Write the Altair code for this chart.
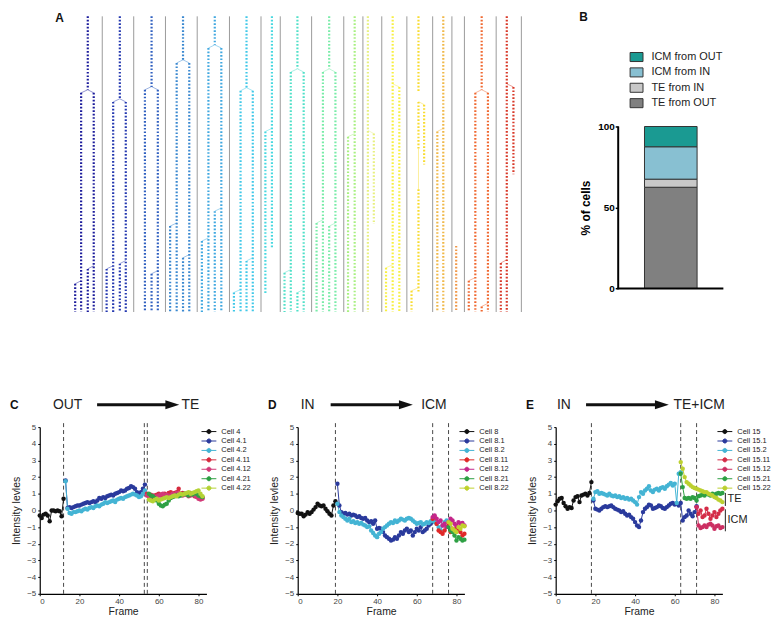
import altair as alt
import pandas as pd

FONT = "Liberation Sans"

# ---------------- Panel A : lineage trees ----------------
tree_colors = ["#1c1c9c", "#2438b0", "#3060c0", "#3a88d0", "#40a8e0", "#40c8e8",
               "#48d8e0", "#50e0c8", "#78eca8", "#a8f080", "#e8f080", "#f8f040",
               "#f8dc30", "#f0b848", "#f09848", "#f06830", "#d83828"]
separator_x = [102.3, 134, 166, 198, 230.5, 262.3, 281.7, 313.3, 345.7, 365, 384,
               409.3, 435.3, 454.7, 467.3, 499.3, 524.7]
# lineage column, lane position, first frame, last frame, parent lane (None = root)
tracks = [
    (1, 87.7, 0, 21.1, None), (1, 81, 22, 85, 87.7), (1, 93.7, 22, 85, 87.7),
    (1, 87.7, 72.6, 85, 93.7), (1, 75, 76.9, 85, 81),
    (2, 120, 0, 23.7, None), (2, 113.3, 24.6, 85, 120), (2, 126, 24.6, 85, 120),
    (2, 106.7, 72.6, 85, 113.3), (2, 120, 71.1, 85, 126),
    (3, 152, 0, 20.3, None), (3, 145.3, 21.1, 85, 152), (3, 158.3, 21.1, 85, 152),
    (3, 152, 74, 85, 158.3),
    (4, 183.7, 0, 12.6, None), (4, 177.3, 13.4, 85, 183.7), (4, 190, 13.4, 85, 183.7),
    (4, 170.7, 60.3, 85, 177.3), (4, 183.7, 69.4, 85, 190),
    (5, 215.7, 0, 8.2, None), (5, 209.3, 9.1, 85, 215.7), (5, 222.3, 9.1, 85, 215.7),
    (5, 215.7, 56, 85, 222.3), (5, 202.7, 64.6, 85, 209.3),
    (6, 247.7, 0, 20.6, None), (6, 241.7, 21.4, 85, 247.7), (6, 254, 21.4, 85, 247.7),
    (6, 247.7, 70.3, 85, 254), (6, 235, 79.4, 85, 241.7),
    (7, 273.3, 0, 66.6, None), (7, 266.7, 33.1, 79.7, 273.3),
    (8, 299, 0, 15.1, None), (8, 292.3, 16, 85, 299), (8, 305.3, 16, 85, 299),
    (8, 286, 73.7, 85, 292.3), (8, 299, 79.4, 85, 305.3),
    (9, 331, 0, 15.1, None), (9, 324.7, 16, 85, 331), (9, 337.3, 16, 85, 331),
    (9, 318.3, 59.4, 85, 324.7), (9, 331, 60.3, 85, 337.3),
    (10, 356.7, 0, 85, None), (10, 350, 34.6, 85, 356.7),
    (11, 370, 0, 85, None), (11, 376, 33.7, 59.7, 370),
    (12, 395, 0, 85, None), (12, 401.7, 20.3, 85, 395), (12, 388.3, 72.3, 85, 395),
    (13, 421, 0, 21.7, None), (13, 421, 24.6, 38, None), (13, 421, 49.7, 79.7, None),
    (13, 426.7, 25.4, 42.6, 421), (13, 414, 78.9, 85, 421),
    (14, 446, 0, 85, None), (14, 440, 33.1, 85, 446),
    (15, 459, 66, 85, None),
    (16, 484.7, 0, 21.1, None), (16, 478.3, 22, 85, 484.7), (16, 491, 22, 85, 484.7),
    (16, 471.7, 76, 85, 478.3), (16, 484.7, 83.4, 85, 491),
    (17, 510, 0, 85, None), (17, 516.7, 20.3, 45.4, 510), (17, 504, 70.9, 85, 510),
]
gaps = [(13, 421, 38, 49.7)]

col_names = [f"L{i}" for i in range(1, 18)]
trk = pd.DataFrame([{"col": f"L{c}", "x": x, "f0": a, "f1": b} for c, x, a, b, p in tracks])
con = pd.DataFrame(
    [{"col": f"L{c}", "px": p, "pf": a - 0.9, "x": x, "f0": a} for c, x, a, b, p in tracks if p is not None]
    + [{"col": f"L{c}", "px": x, "pf": a, "x": x, "f0": b} for c, x, a, b in gaps])
sep = pd.DataFrame({"x": separator_x})

XA = alt.Scale(domain=[39.3, 525], nice=False, zero=False)
YA = alt.Scale(domain=[0, 85], nice=False, reverse=True)
colA = alt.Color("col:N", scale=alt.Scale(domain=col_names, range=tree_colors), legend=None)

a_sep = alt.Chart(sep).mark_rule(color="#9a9a9a", strokeWidth=1).encode(
    x=alt.X("x:Q", scale=XA, axis=None))
a_con = alt.Chart(con).mark_rule(strokeWidth=0.6, opacity=0.8).encode(
    x=alt.X("px:Q", scale=XA, axis=None), y=alt.Y("pf:Q", scale=YA, axis=None),
    x2="x:Q", y2="f0:Q", color=colA)
a_trk = alt.Chart(trk).mark_rule(strokeWidth=2.2, strokeDash=[1.7, 1.8]).encode(
    x=alt.X("x:Q", scale=XA, axis=None), y=alt.Y("f0:Q", scale=YA, axis=None),
    y2="f1:Q", color=colA)
a_lab = alt.Chart(pd.DataFrame({"t": ["A"]})).mark_text(
    font=FONT, fontSize=12, fontWeight="bold", align="left", baseline="middle", color="#111"
).encode(x=alt.value(15.7), y=alt.value(1.5), text="t:N")
panelA = alt.layer(a_sep, a_con, a_trk, a_lab).properties(width=485.7, height=298)

# ---------------- Panel B : stacked bar ----------------
b_groups = ["TE from OUT", "TE from IN", "ICM from IN", "ICM from OUT"]
b_percent = [62.5, 5.0, 20.0, 12.5]
b_colors = ["#808080", "#c8c8c8", "#88c0d2", "#1a9a92"]
bdf = pd.DataFrame({"g": ["all"] * 4, "grp": b_groups, "pct": b_percent, "k": [0, 1, 2, 3]})
leg_order = b_groups[::-1]
leg_colors = b_colors[::-1]
YB = alt.Scale(domain=[-14.5, 168], nice=False, zero=False)
XB = alt.Scale(domain=["all"])

b_bar = alt.Chart(bdf).mark_bar(size=53, stroke="#333", strokeWidth=1).encode(
    x=alt.X("g:N", scale=XB, axis=None),
    y=alt.Y("pct:Q", stack="zero", scale=YB,
            axis=alt.Axis(values=[0, 50, 100], title="% of cells", titleFont=FONT,
                          titleFontSize=12, titleFontWeight="bold", titleColor="black",
                          titleY=192.7, labelFont=FONT, labelFontSize=10,
                          labelFontWeight="bold", labelColor="black", tickSize=3,
                          tickWidth=1.5, tickColor="black", domain=False, labelPadding=1,
                          titlePadding=5, grid=False)),
    color=alt.Color("grp:N", scale=alt.Scale(domain=leg_order, range=leg_colors),
                    legend=alt.Legend(title=None, orient="none", legendX=11.5, legendY=34,
                                      symbolType="M-1,-0.7H1V0.7H-1Z", symbolSize=169,
                                      symbolStrokeColor="#333", symbolStrokeWidth=1,
                                      labelFont=FONT, labelFontSize=11, labelColor="#222",
                                      rowPadding=1.5, labelOffset=8, padding=0)),
    order=alt.Order("k:Q"))
axis_df = pd.DataFrame({"lo": [0], "hi": [100]})
b_yline = alt.Chart(axis_df).mark_rule(color="black", strokeWidth=2).encode(
    x=alt.value(0), y=alt.Y("lo:Q", scale=YB), y2="hi:Q")
b_xline = alt.Chart(axis_df).mark_rule(color="black", strokeWidth=2).encode(
    x=alt.value(-1), x2=alt.value(106), y=alt.Y("lo:Q", scale=YB))
b_lab = alt.Chart(pd.DataFrame({"t": ["B"]})).mark_text(
    font=FONT, fontSize=12, fontWeight="bold", align="left", baseline="middle", color="#111"
).encode(x=alt.value(-39.3), y=alt.value(1), text="t:N")
panelB = alt.layer(b_bar, b_yline, b_xline, b_lab).properties(width=106, height=298)

# ---------------- Panels C, D, E : intensity traces ----------------
c_cells = ["Cell 4", "Cell 4.1", "Cell 4.2", "Cell 4.11", "Cell 4.12", "Cell 4.21", "Cell 4.22"]
c_start = [0, 13, 13, 54, 54, 55, 55]
c_values = [
    [-0.3, -0.45, -0.25, -0.2, -0.3, -0.65, 0.0, 0.0, -0.05, 0.0, -0.05, -0.35, 0.7],
    [1.8, 0.15, 0.2, 0.15, 0.2, 0.25, 0.3, 0.3, 0.35, 0.4, 0.45, 0.5, 0.45, 0.5, 0.55, 0.5,
     0.6, 0.75, 0.7, 0.8, 0.75, 0.85, 0.9, 0.95, 0.9, 1.0, 1.05, 1.1, 1.2, 1.15, 1.2, 1.3,
     1.35, 1.45, 1.4, 1.3, 1.1, 1.0, 1.1, 1.3, 1.55],
    [1.75, 0.1, -0.15, -0.2, -0.1, -0.1, -0.05, 0.0, -0.05, 0.05, 0.1, 0.05, 0.15, 0.2, 0.15,
     0.25, 0.3, 0.25, 0.35, 0.4, 0.5, 0.45, 0.5, 0.55, 0.6, 0.5, 0.65, 0.7, 0.75, 0.7, 0.8,
     0.85, 0.9, 0.95, 1.0, 0.95, 0.9, 0.8, 0.85, 1.0, 1.2],
    [1.0, 0.9, 0.95, 0.8, 0.9, 0.95, 1.0, 0.9, 0.95, 1.0, 0.9, 1.05, 1.1, 1.0, 1.05, 1.1, 1.3,
     1.0, 1.05, 0.95, 1.0, 0.9, 1.05, 0.95, 0.85, 0.9, 0.8, 0.7, 0.75],
    [0.9, 0.8, 0.85, 0.9, 0.8, 0.85, 0.9, 0.95, 1.0, 0.9, 0.95, 0.85, 0.9, 1.0, 0.95, 1.05,
     1.0, 0.95, 0.9, 1.0, 0.95, 0.85, 0.9, 1.0, 0.9, 0.8, 0.7, 0.65, 0.7],
    [1.0, 0.9, 0.85, 0.75, 0.6, 0.4, 0.3, 0.25, 0.35, 0.4, 0.6, 0.75, 0.8, 0.85, 0.9, 0.85,
     0.9, 0.95, 1.0, 0.95, 0.9, 1.0, 0.95, 1.05, 1.0, 0.9, 0.85, 0.8],
    [0.65, 0.6, 0.55, 0.65, 0.7, 0.6, 0.65, 0.7, 0.75, 0.8, 0.75, 0.8, 0.85, 0.9, 0.85, 0.95,
     1.0, 0.95, 1.0, 1.05, 1.1, 1.0, 1.05, 1.1, 1.15, 1.2, 1.0, 0.85],
]
c_colors = ["#111111", "#2a3a9c", "#44b4d4", "#d62a3e", "#d23a78", "#2ea044", "#b4d234"]
c_vlines = [12, 52.7, 54.2]

d_cells = ["Cell 8", "Cell 8.1", "Cell 8.2", "Cell 8.11", "Cell 8.12", "Cell 8.21", "Cell 8.22"]
d_start = [0, 20, 20, 68, 68, 76, 76]
d_values = [
    [-0.15, -0.2, -0.2, -0.35, -0.25, -0.1, -0.2, -0.1, 0.05, 0.2, 0.4, 0.3, 0.25, 0.3, 0.1,
     -0.05, -0.2, -0.3, 0.3, 0.55],
    [1.6, 0.3, -0.1, -0.2, -0.15, -0.25, -0.2, -0.3, -0.25, -0.3, -0.4, -0.35, -0.45, -0.5,
     -0.45, -0.6, -0.7, -0.65, -0.8, -0.6, -1.1, -1.05, -1.1, -1.3, -1.5, -1.6, -1.7, -1.8,
     -1.75, -1.6, -1.7, -1.5, -1.3, -1.4, -1.2, -1.1, -1.3, -1.2, -1.5, -1.3, -1.1, -1.2,
     -1.0, -1.3, -1.2, -1.1, -0.9, -0.8, -0.6],
    [0.4, -0.1, -0.3, -0.4, -0.5, -0.6, -0.5, -0.7, -0.65, -0.75, -0.7, -0.8, -0.75, -0.85,
     -0.9, -1.0, -0.95, -1.2, -1.35, -1.5, -1.6, -1.4, -1.3, -1.1, -1.0, -0.9, -0.8, -0.7,
     -0.75, -0.6, -0.7, -0.6, -0.5, -0.55, -0.6, -0.5, -0.45, -0.5, -0.6, -0.7, -0.8, -0.75,
     -0.7, -0.85, -0.8, -0.7, -0.75, -0.65, -0.6, -0.7, -0.8, -1.0, -1.2, -0.9, -0.7, -0.6,
     -0.7],
    [-0.5, -0.4, -0.8, -1.2, -1.3, -1.4, -1.2, -1.0, -0.8, -1.3, -1.1, -1.2, -1.0, -1.2, -1.3,
     -1.5, -1.4],
    [-0.4, -0.3, -0.5, -0.7, -0.6, -0.9, -0.8, -1.0, -0.7, -0.5, -0.6, -0.8, -0.9, -0.7, -0.8,
     -0.75, -0.9],
    [-1.0, -1.2, -1.3, -1.5, -1.8, -1.6, -1.7, -1.8, -1.75],
    [-0.7, -0.8, -1.1, -1.2, -1.3, -1.0, -1.1, -0.9, -0.95],
]
d_colors = ["#111111", "#2a3a9c", "#44b4d4", "#e02828", "#c4268a", "#2ea044", "#c0d22c"]
d_vlines = [19, 68, 76]

e_cells = ["Cell 15", "Cell 15.1", "Cell 15.2", "Cell 15.11", "Cell 15.12", "Cell 15.21",
           "Cell 15.22"]
e_start = [0, 19, 19, 71, 71, 63, 63]
e_values = [
    [0.35, 0.55, 0.7, 0.75, 0.45, 0.25, 0.1, 0.2, 0.15, 0.6, 0.8, 0.85, 0.5, 0.9, 0.95, 1.0,
     0.9, 1.05, 1.7],
    [0.6, 0.1, 0.05, 0.0, 0.1, 0.2, 0.25, 0.2, 0.25, 0.3, 0.2, 0.1, 0.05, 0.0, -0.1, -0.05,
     -0.2, -0.3, -0.25, -0.4, -0.5, -0.7, -0.9, -1.0, -0.6, -0.1, 0.1, 0.2, 0.35, 0.3, 0.1,
     0.15, 0.2, 0.3, 0.25, 0.15, 0.1, 0.2, 0.3, 0.4, 0.45, 0.35, 0.4, 0.3, 0.45, -0.6, -0.4,
     -0.3, 0.0, -0.2, -0.35, -0.1, 0.25],
    [0.7, 1.1, 1.15, 1.0, 1.05, 1.0, 0.95, 0.9, 1.0, 0.9, 0.85, 0.9, 0.8, 0.85, 0.75, 0.8, 0.7,
     0.75, 0.65, 0.7, 0.6, 0.5, 0.35, 0.8, 1.1, 1.0, 1.2, 1.3, 1.45, 1.2, 1.1, 1.25, 1.3, 1.2,
     1.35, 1.4, 1.3, 1.45, 1.55, 1.65, 1.5, 1.6, 0.45, 2.2, 2.3],
    [0.2, -0.2, 0.0, -0.4, -0.3, 0.1, -0.2, -0.5, -0.3, -0.1, -0.4, -0.2, 0.0, 0.1],
    [0.2, -0.9, -1.05, -1.0, -0.9, -1.0, -0.85, -0.8, -0.9, -1.1, -0.95, -0.9, -1.05, -1.0],
    [2.2, 1.4, 0.75, 0.7, 0.75, 0.7, 0.8, 0.75, 0.6, 0.85, 0.9, 0.95, 0.9, 1.0, 0.95, 0.9, 1.0,
     0.95, 1.0, 1.05, 1.0, 1.05],
    [2.9, 2.5, 2.0, 1.7, 1.6, 1.5, 1.4, 1.35, 1.3, 1.25, 1.2, 1.15, 1.1, 1.1, 1.0, 0.95, 0.9,
     0.8, 0.75, 0.65, 0.6, 0.5],
]
e_colors = ["#111111", "#2a3a9c", "#44b4d4", "#d42c48", "#cc2e62", "#2ea044", "#bcd030"]
e_vlines = [18, 63, 71]
# fate brackets at the right of panel E: label, top value, bottom value
e_fate_label = ["TE", "ICM"]
e_fate_top = [1.05, 0.07]
e_fate_bottom = [0.27, -1.25]

# header annotations "from -> to" (positions in frames)
heads = {
    "C": ("OUT", 14.0, 28.9, 70.3, "TE", 71.4),
    "D": ("IN", 5.0, 16.6, 58.0, "ICM", 62.2),
    "E": ("IN", 4.1, 15.3, 57.0, "TE+ICM", 59.4),
}

LINE_DOT = "M-2,0H2M-0.55,0A0.55,0.55,0,1,1,0.55,0A0.55,0.55,0,1,1,-0.55,0Z"
XS = alt.Scale(domain=[0, 84], nice=False, zero=False)
YS = alt.Scale(domain=[-5, 5], nice=False)
XAX = alt.Axis(values=[0, 20, 40, 60, 80], title="Frame", titleFont=FONT,
               titleFontSize=10.5, titleFontWeight="normal", titleColor="#222",
               labelFont=FONT, labelFontSize=8, labelColor="#444", tickSize=2,
               tickColor="black", domainColor="black", domainWidth=1.2,
               labelPadding=2, titlePadding=1, grid=False)
YAX = alt.Axis(values=list(range(-5, 6)), title="Intensity levles", titleFont=FONT,
               titleFontSize=10.5, titleFontWeight="normal", titleColor="#222",
               labelFont=FONT, labelFontSize=8, labelColor="#444", tickSize=2,
               tickColor="black", domainColor="black", domainWidth=1.2,
               labelPadding=2, titlePadding=5, grid=False)
PANEL_H = 168


def fx(field):
    return alt.X(field, scale=XS, axis=XAX)


def fy(field):
    return alt.Y(field, scale=YS, axis=YAX)


def trace_panel(letter, cells, starts, series, colors, vlines, fates=None):
    rows = []
    for cell, s, vals in zip(cells, starts, series):
        for i, v in enumerate(vals):
            rows.append({"cell": cell, "frame": s + i, "value": v})
    df = pd.DataFrame(rows)
    lines = alt.Chart(df).mark_line(
        strokeWidth=1, point=alt.OverlayMarkDef(filled=True, size=20)
    ).encode(
        x=fx("frame:Q"), y=fy("value:Q"),
        color=alt.Color("cell:N", scale=alt.Scale(domain=cells, range=colors),
                        legend=alt.Legend(title=None, orient="none", legendX=166, legendY=0,
                                          symbolType=LINE_DOT, symbolSize=56,
                                          symbolStrokeWidth=1, labelFont=FONT,
                                          labelFontSize=7.5, labelColor="#222",
                                          rowPadding=0.5, labelOffset=8, padding=0)))
    vl = alt.Chart(pd.DataFrame({"frame": vlines, "lo": [-5] * len(vlines),
                                 "hi": [5.3] * len(vlines)})).mark_rule(
        color="#333", strokeWidth=0.9, strokeDash=[4, 3]).encode(
        x=fx("frame:Q"), y=fy("lo:Q"), y2="hi:Q")
    lw, lx, a0, a1, rw, rx = heads[letter]
    hd = pd.DataFrame({"frame": [a0], "frame_end": [a1 - 3.5], "tip": [a1 - 3.5],
                       "lw": [lw], "lx": [lx], "rw": [rw], "rx": [rx]})
    hy = alt.value(-22.5)
    arrow = alt.Chart(hd).mark_rule(strokeWidth=3, color="#111").encode(
        x=fx("frame:Q"), x2=alt.X2("frame_end:Q"), y=hy)
    head = alt.Chart(hd).mark_point(shape="M-1,-0.65L1,0L-1,0.65Z", filled=True, size=196,
                                    color="#111", opacity=1).encode(x=fx("tip:Q"), y=hy)
    t_left = alt.Chart(hd).mark_text(font=FONT, fontSize=14, align="center",
                                     baseline="middle", color="#222").encode(
        x=fx("lx:Q"), y=hy, text="lw:N")
    t_right = alt.Chart(hd).mark_text(font=FONT, fontSize=14, align="left",
                                      baseline="middle", color="#222").encode(
        x=fx("rx:Q"), y=hy, text="rw:N")
    lab = alt.Chart(pd.DataFrame({"t": [letter]})).mark_text(
        font=FONT, fontSize=12, fontWeight="bold", align="left", baseline="middle",
        color="#111").encode(x=alt.value(-30), y=hy, text="t:N")
    layers = [vl, lines, arrow, head, t_left, t_right, lab]
    if fates is not None:
        names, tops, bots = fates
        fd = pd.DataFrame({"frame": [85.5] * len(names), "value": tops, "v2": bots,
                           "tx": [86.6] * len(names),
                           "mid": [(t + b) / 2 for t, b in zip(tops, bots)], "name": names})
        br = alt.Chart(fd).mark_rule(color="#222", strokeWidth=1).encode(
            x=fx("frame:Q"), y=fy("value:Q"), y2="v2:Q")
        bt = alt.Chart(fd).mark_text(font=FONT, fontSize=11, align="left",
                                     baseline="middle", color="#222").encode(
            x=fx("tx:Q"), y=fy("mid:Q"), text="name:N")
        layers += [br, bt]
    return alt.layer(*layers).properties(width=168, height=PANEL_H)


panelC = trace_panel("C", c_cells, c_start, c_values, c_colors, c_vlines)
panelD = trace_panel("D", d_cells, d_start, d_values, d_colors, d_vlines)
panelE = trace_panel("E", e_cells, e_start, e_values, e_colors, e_vlines,
                     (e_fate_label, e_fate_top, e_fate_bottom))

row1 = alt.hconcat(panelA, panelB, spacing=57).resolve_scale(color="independent")
row2 = alt.hconcat(panelC, panelD, panelE, spacing=17).resolve_scale(color="independent")
chart = alt.vconcat(row1, row2, spacing=84).properties(
    padding={"left": 2, "top": 1, "right": 0, "bottom": 0}
).resolve_scale(color="independent").configure(font=FONT).configure_view(strokeWidth=0)

chart.save("out.html", embed_options={"renderer": "svg", "actions": False})
